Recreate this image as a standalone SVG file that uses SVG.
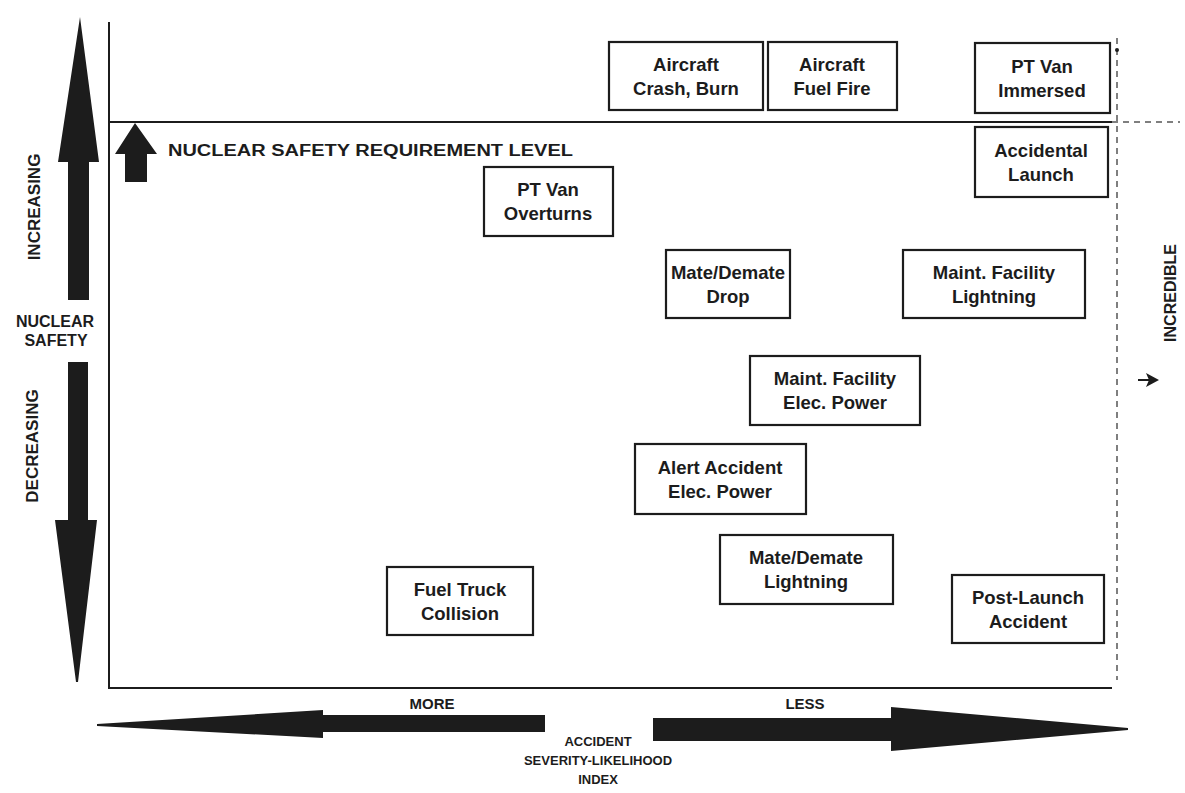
<svg xmlns="http://www.w3.org/2000/svg" width="1185" height="793" viewBox="0 0 1185 793">
<style>
.bx{fill:#fff;stroke:#1c1c1c;stroke-width:2.2}
.t{font-family:"Liberation Sans",Arial,sans-serif;font-weight:bold;font-size:18.5px;fill:#1c1c1c;text-anchor:middle}
.lab{font-family:"Liberation Sans",Arial,sans-serif;font-weight:bold;fill:#1c1c1c;text-anchor:middle}
.st{text-anchor:start}
.ax{stroke:#1c1c1c;stroke-width:2;fill:none}
.dash{stroke:#555;stroke-width:1.5;fill:none;stroke-dasharray:6 5}
.big{fill:#1c1c1c}
</style>
<rect width="1185" height="793" fill="#fff"/>
<g id="axes">
<line class="ax" x1="109" y1="22" x2="109" y2="689"/>
<line class="ax" x1="108" y1="688" x2="1112" y2="688"/>
<line class="ax" x1="108" y1="122" x2="1112" y2="122"/>
<line class="dash" x1="1112" y1="122" x2="1180" y2="122"/>
<line class="dash" x1="1117" y1="38" x2="1117" y2="680"/>
<circle cx="1117" cy="50" r="2" fill="#1c1c1c"/>
</g>
<g id="vertical-arrows">
<polygon class="big" points="80,17 99,162 89,162 89,300 68,300 68,162 58,162"/>
<polygon class="big" points="68,362 88,362 88,520 97,520 78,682 76,682 55,520 68,520"/>
<polygon class="big" points="135,123 157,154 147,154 147,182 125,182 125,154 115,154"/>
</g>
<g id="horizontal-arrows">
<polygon class="big" points="97,724 97,726 323,738 323,732 545,732 545,715 323,715 323,710"/>
<polygon class="big" points="653,718 891,718 891,707 1128,728 1128,730 891,751 891,741 653,741"/>
<path d="M1138 380 H1155" stroke="#1c1c1c" stroke-width="2"/>
<polygon class="big" points="1159,380 1146,373 1149,380 1146,387"/>
</g>
<g id="labels">
<text class="lab" font-size="17" transform="translate(40,207) rotate(-90)">INCREASING</text>
<text class="lab" font-size="17" transform="translate(38,446) rotate(-90)">DECREASING</text>
<text class="lab" font-size="16" x="55" y="327">NUCLEAR</text>
<text class="lab" font-size="16" x="56" y="346">SAFETY</text>
<text class="lab st" font-size="16" x="168" y="156" textLength="405" lengthAdjust="spacingAndGlyphs">NUCLEAR SAFETY REQUIREMENT LEVEL</text>
<text class="lab" font-size="16" transform="translate(1176,293) rotate(-90)">INCREDIBLE</text>
<text class="lab" font-size="15" x="432" y="709">MORE</text>
<text class="lab" font-size="15" x="805" y="709">LESS</text>
<text class="lab" font-size="13" x="598" y="746">ACCIDENT</text>
<text class="lab" font-size="13" x="598" y="765">SEVERITY-LIKELIHOOD</text>
<text class="lab" font-size="13" x="598" y="784">INDEX</text>
</g>
<g id="n1"><rect class="bx" x="609" y="42" width="154" height="68"/><text class="t" x="686" y="71">Aircraft</text><text class="t" x="686" y="95">Crash, Burn</text></g>
<g id="n2"><rect class="bx" x="768" y="42" width="129" height="68"/><text class="t" x="832" y="71">Aircraft</text><text class="t" x="832" y="95">Fuel Fire</text></g>
<g id="n3"><rect class="bx" x="975" y="43" width="135" height="70"/><text class="t" x="1042" y="73">PT Van</text><text class="t" x="1042" y="97">Immersed</text></g>
<g id="n4"><rect class="bx" x="975" y="127" width="133" height="70"/><text class="t" x="1041" y="157">Accidental</text><text class="t" x="1041" y="181">Launch</text></g>
<g id="n5"><rect class="bx" x="484" y="167" width="129" height="69"/><text class="t" x="548" y="196">PT Van</text><text class="t" x="548" y="220">Overturns</text></g>
<g id="n6"><rect class="bx" x="666" y="250" width="124" height="68"/><text class="t" x="728" y="279">Mate/Demate</text><text class="t" x="728" y="303">Drop</text></g>
<g id="n7"><rect class="bx" x="903" y="250" width="182" height="68"/><text class="t" x="994" y="279">Maint. Facility</text><text class="t" x="994" y="303">Lightning</text></g>
<g id="n8"><rect class="bx" x="750" y="356" width="170" height="69"/><text class="t" x="835" y="385">Maint. Facility</text><text class="t" x="835" y="409">Elec. Power</text></g>
<g id="n9"><rect class="bx" x="635" y="444" width="171" height="70"/><text class="t" x="720" y="474">Alert Accident</text><text class="t" x="720" y="498">Elec. Power</text></g>
<g id="n10"><rect class="bx" x="720" y="535" width="173" height="69"/><text class="t" x="806" y="564">Mate/Demate</text><text class="t" x="806" y="588">Lightning</text></g>
<g id="n11"><rect class="bx" x="387" y="567" width="146" height="68"/><text class="t" x="460" y="596">Fuel Truck</text><text class="t" x="460" y="620">Collision</text></g>
<g id="n12"><rect class="bx" x="952" y="575" width="152" height="68"/><text class="t" x="1028" y="604">Post-Launch</text><text class="t" x="1028" y="628">Accident</text></g>
</svg>
